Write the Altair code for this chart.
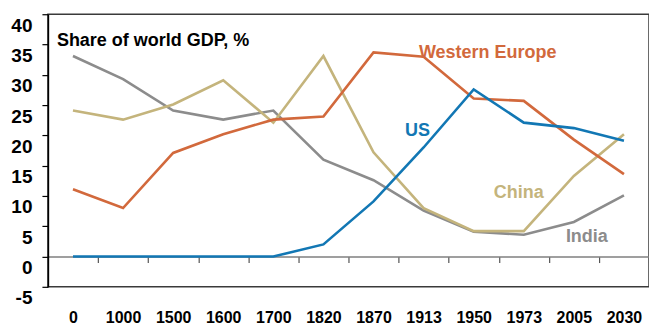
import altair as alt
import pandas as pd

years = ["0", "1000", "1500", "1600", "1700", "1820", "1870", "1913", "1950", "1973", "2005", "2030"]
western_europe = [11.1, 8.0, 17.1, 20.2, 22.6, 23.1, 33.7, 33.0, 26.1, 25.7, 19.3, 13.6]
us = [0, 0, 0, 0, 0, 2.0, 9.1, 18.0, 27.6, 22.1, 21.2, 19.1]
china = [24.1, 22.6, 25.1, 29.1, 22.1, 33.1, 17.2, 8.0, 4.2, 4.2, 13.3, 20.2]
india = [33.1, 29.3, 24.1, 22.6, 24.1, 16.0, 12.6, 7.6, 4.1, 3.6, 5.7, 10.1]
y_ticks = [-5, 0, 5, 10, 15, 20, 25, 30, 35, 40]

series_names = ["India", "China", "Western Europe", "US"]
series_colors = ["#8c8c8c", "#c4b47c", "#d2693c", "#1277b4"]

label_names = ["Western Europe", "US", "China", "India"]
label_year = ["1950", "1913", "1973", "2005"]
label_value = [33.6, 20.8, 10.5, 3.3]
label_dx = [14, -6, -5, 13]

FONT = "Liberation Sans"

rows = []
for name, vals in zip(series_names, [india, china, western_europe, us]):
    for i, (y, v) in enumerate(zip(years, vals)):
        rows.append({"year": y, "value": v, "series": name, "order": i})
df = pd.DataFrame(rows)

labels_df = pd.DataFrame({"series": label_names, "year": label_year,
                          "value": label_value})

W, H = 602, 273
yscale = alt.Scale(domain=[-5, 40], nice=False, zero=False)
xscale = alt.Scale(type="band", domain=years, paddingInner=0, paddingOuter=0)
cscale = alt.Scale(domain=series_names, range=series_colors)

x_axis = alt.Axis(title=None, orient="bottom", offset=-30.3,
                  domainColor="#7f7f7f", domainWidth=1.5,
                  tickColor="#555555", tickWidth=1.2, tickSize=6,
                  tickBand="extent", labelAngle=0, labelPadding=47,
                  labelFont=FONT, labelFontSize=16, labelFontWeight="bold",
                  labelColor="#000000")
y_axis = alt.Axis(title=None, values=y_ticks, grid=False,
                  labelExpr="'' + datum.value", labelOverlap=False,
                  labelOffset=11,
                  domainColor="#000000", domainWidth=1.5,
                  tickColor="#000000", tickSize=6, tickWidth=1.2,
                  labelPadding=10, labelFont=FONT, labelFontSize=19,
                  labelFontWeight="bold", labelColor="#000000")

lines = alt.Chart(df).mark_line(strokeWidth=2.6).encode(
    x=alt.X("year:N", sort=years, scale=xscale, bandPosition=0.5, axis=x_axis),
    y=alt.Y("value:Q", scale=yscale, axis=y_axis),
    color=alt.Color("series:N", scale=cscale, legend=None),
    order="order:Q",
    detail="series:N",
)

text_layers = []
for n, dxv in zip(label_names, label_dx):
    text_layers.append(
        alt.Chart(labels_df).transform_filter(alt.datum.series == n).mark_text(
            font=FONT, fontSize=18, fontWeight="bold", align="center",
            baseline="middle", dx=dxv).encode(
            x=alt.X("year:N", sort=years, scale=xscale, bandPosition=0.5, axis=x_axis),
            y=alt.Y("value:Q", scale=yscale, axis=y_axis),
            text="series:N",
            color=alt.Color("series:N", scale=cscale, legend=None),
        )
    )

title_txt = alt.Chart(pd.DataFrame({"t": ["Share of world GDP, %"]})).mark_text(
    font=FONT, fontSize=18, fontWeight="bold", align="left", baseline="middle",
    color="#000000").encode(x=alt.value(9), y=alt.value(27), text="t:N")

chart = alt.layer(lines, *text_layers, title_txt).properties(
    width=W, height=H,
    padding={"left": 48, "top": 14, "right": 0, "bottom": 44},
    autosize=alt.AutoSizeParams(type="none"),
    background="#ffffff",
).configure_view(stroke="#3a3a3a", strokeWidth=1.5)

chart.save("out.html", embed_options={"renderer": "svg", "actions": False})
